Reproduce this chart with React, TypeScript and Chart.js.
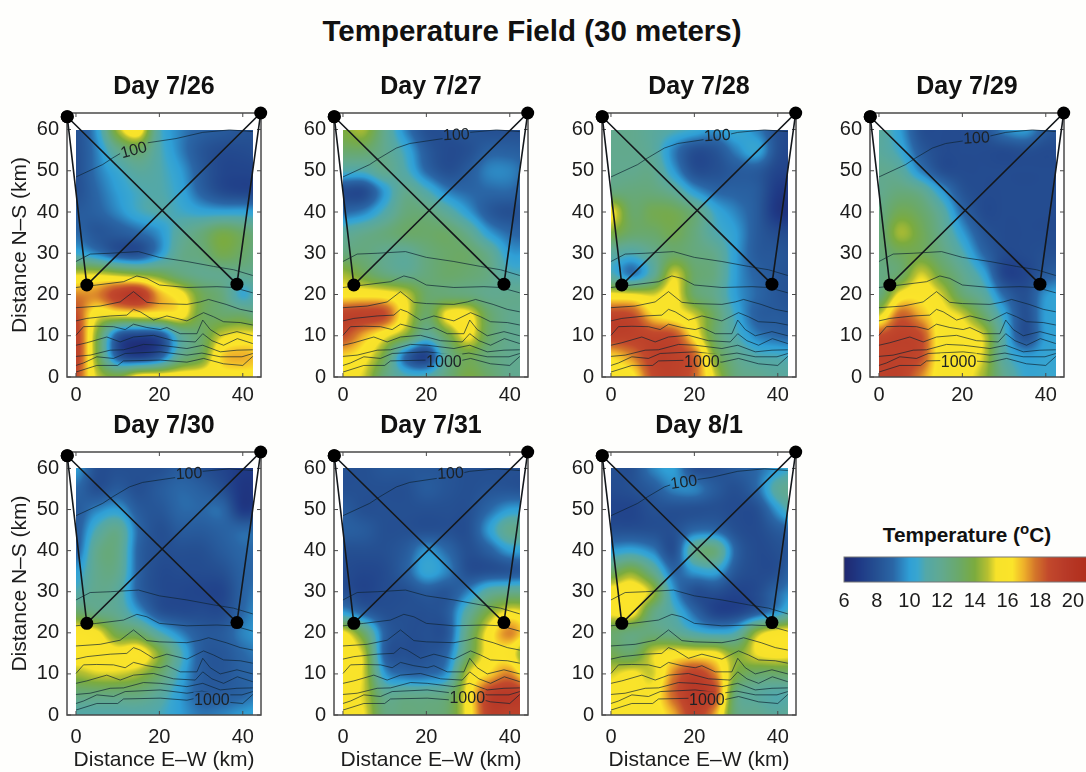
import React, { useEffect, useRef } from "react";
import { Chart, registerables } from "chart.js";

Chart.register(...registerables);

const FONT = "'Liberation Sans', Arial, sans-serif";

// Temperature readings: rows y = 60, 55 ... 0 km, columns x = 0, 5 ... 45 km
const gridStepKm = 5;
const temp0726 = [
  [8, 10, 14.5, 16, 11, 9.5, 8.8, 8.5, 8.2, 8],
  [8, 9.5, 12, 13, 11, 9.5, 8.3, 7.8, 7.8, 8],
  [8, 9.3, 10.5, 11.5, 11, 10, 8.5, 7.6, 7.5, 7.6],
  [8, 9, 10, 10.8, 11, 10.3, 8.8, 7.8, 7.5, 7.6],
  [8.5, 8.8, 9.6, 10.6, 11, 10.7, 10.3, 10.2, 10.2, 10],
  [9, 8.3, 8.5, 9, 9.8, 11.5, 12.5, 13.6, 13, 12],
  [10.5, 9.5, 8.2, 8, 9.8, 12, 12.5, 13.6, 13, 12],
  [15, 15, 14.5, 14, 13.5, 12.5, 12, 12, 12, 12],
  [17.5, 17.5, 19, 19.5, 17, 15.7, 13.5, 12.5, 10.5, 12],
  [18.5, 15.5, 15.5, 15.7, 15.8, 15.8, 13.5, 13, 13, 12],
  [19, 14, 8.5, 7.5, 8, 11.5, 13, 15, 15.5, 15.5],
  [19, 14, 8.5, 7.3, 8.5, 12, 13.5, 16.5, 17, 16.5],
  [18.5, 15, 14, 15.8, 16, 16, 16, 16, 16, 16],
];
const temp0727 = [
  [14, 14.5, 12, 9.5, 8, 8, 8.3, 8, 8, 8],
  [13, 13, 12, 10.5, 8.5, 7.8, 8, 8.7, 8.7, 8.5],
  [11, 11, 12, 11, 9, 8, 8.5, 9.5, 9.5, 8.8],
  [7.8, 7.8, 10, 12, 11, 9.5, 9, 9, 9, 8.5],
  [9, 9.5, 11, 12.5, 12.5, 11.5, 10, 8.5, 8, 8.5],
  [11.5, 12, 12.5, 13, 13, 13, 12, 10, 9, 8.8],
  [12.5, 12.5, 12, 11.7, 12.5, 13, 13, 12, 10, 10],
  [14.5, 13.5, 12.5, 12, 12.5, 13, 12.8, 12.3, 11, 11],
  [16, 16, 15.8, 15, 13, 12.7, 12.5, 12, 12, 12],
  [19, 19, 18.5, 15.5, 13, 15.5, 15.7, 13, 12, 12],
  [18.5, 17, 15.5, 14, 11.5, 13.5, 15.5, 13, 12, 12],
  [16.5, 15.7, 13.5, 9, 7.5, 12, 13.5, 12.5, 12, 12],
  [15.5, 15, 12.5, 11, 11, 12.5, 13.8, 13, 12, 12],
];
const temp0728 = [
  [12, 12, 11.5, 11, 10.5, 9.8, 10.5, 9.5, 8, 7.5],
  [12, 12, 11.5, 9.5, 8, 8.2, 9.5, 10.3, 8, 7.5],
  [12, 12, 12, 10, 8, 8, 8.5, 8.5, 7.5, 7.5],
  [12.5, 12.5, 12.5, 11.8, 10, 9, 8.8, 8.5, 7, 7],
  [15.5, 13, 13.5, 13.5, 12.5, 10.5, 9.5, 8.5, 6.8, 6.8],
  [14, 13, 13, 13.5, 12.5, 11, 10, 8.5, 7.8, 7.8],
  [11.5, 11, 12, 13, 12.5, 12, 10, 8.5, 8.3, 8],
  [11, 9.3, 11.5, 15, 13, 12.3, 10, 8.8, 8.3, 8],
  [15.5, 15.3, 15, 15.7, 13, 12, 10, 9, 8.3, 8],
  [18.8, 18.5, 16.5, 15.8, 15, 13, 10.5, 8.7, 8.5, 8.3],
  [19, 19, 18.8, 18.5, 16, 13, 11, 9.5, 9, 8.8],
  [16.5, 17.5, 19, 19, 18, 14, 12, 11, 10.8, 10.5],
  [15.7, 16, 18.5, 19, 18, 15, 12.5, 12, 11.5, 11.5],
];
const temp0729 = [
  [11.5, 10, 8, 7.8, 7.8, 8, 9.5, 10, 8.5, 8],
  [11.5, 10.5, 8.5, 7.8, 7.8, 7.8, 7.8, 8, 7.8, 7.8],
  [12, 11.5, 9.5, 8, 7.8, 7.8, 7.8, 7.8, 7.8, 7.8],
  [12, 12.5, 12, 10, 8.2, 7.8, 7.8, 7.8, 7.8, 7.8],
  [12.3, 13.5, 13, 11.5, 9, 7.8, 7.8, 7.8, 7.8, 7.8],
  [12.5, 14.5, 13.5, 12, 10, 8.3, 7.8, 7.8, 7.8, 7.8],
  [12.5, 13.3, 13.5, 12.5, 11, 9, 7.8, 7.8, 8, 8],
  [12.3, 13, 15, 13.5, 12, 10.3, 7.5, 7.5, 8.5, 9],
  [12.5, 15.5, 16, 15, 12.8, 11.5, 9, 8, 9.8, 10.3],
  [15, 18, 17, 15.7, 15, 13, 10.3, 8, 10, 10],
  [18.5, 19, 18.5, 15.7, 15.7, 15, 11, 8, 10, 10],
  [19, 19, 18.5, 15.7, 15.7, 15, 11.3, 10, 10.3, 10.3],
  [19, 19, 17.5, 15.7, 15.7, 14.5, 12, 10.5, 10.5, 10.5],
];
const temp0730 = [
  [10, 8, 8, 8, 8, 8.5, 8, 7.5, 7, 7],
  [9, 8, 8.5, 8, 8.5, 9, 8.7, 8, 6.8, 7],
  [8.5, 9.5, 10, 8.5, 8.3, 9, 9, 9, 7, 7.5],
  [8.5, 11, 12, 9, 8, 8.5, 8.5, 8.8, 9, 9],
  [8.7, 12, 12.2, 8.8, 8, 8, 8, 8.5, 9, 9],
  [10, 12, 12, 8.8, 7.8, 7.8, 7.8, 8, 8.8, 9],
  [11, 12, 11.5, 8.8, 7.8, 7.6, 7.5, 7.5, 8.8, 9.5],
  [13, 12.3, 11.8, 10, 8.2, 7.8, 7.8, 7.8, 9, 10],
  [16, 15.5, 13.5, 13, 11, 9.5, 8.5, 8.5, 9.5, 10],
  [16, 16, 15.7, 16, 14, 11, 8.6, 8.3, 9, 9.5],
  [14.5, 15, 15, 14.5, 13, 10.5, 8.6, 8.3, 8.8, 9],
  [12.5, 12.5, 12.5, 12.5, 11.5, 10, 8.7, 8.6, 8.9, 9.5],
  [11, 11, 11, 11, 10.8, 10, 9.3, 9.5, 10, 10.3],
];
const temp0731 = [
  [8, 8, 8.3, 8.3, 8.3, 8.2, 8, 8, 8, 8],
  [8, 8, 8, 8, 8.5, 8.2, 8, 8.2, 8.2, 8],
  [8.5, 8, 8, 8, 8, 8, 8, 9, 10, 10],
  [8.7, 8.5, 8, 8, 8, 8, 8, 10, 12, 11.5],
  [8, 8, 8, 8.5, 9.8, 9, 8, 8.7, 10, 10],
  [7.8, 7.6, 7.8, 8.7, 10.3, 9.5, 8, 8, 8.2, 8.5],
  [8, 7.5, 7.8, 8, 8.5, 8.3, 9.5, 11.5, 12, 12],
  [10, 8.7, 8, 8, 8, 8.5, 11.5, 14, 15.5, 15],
  [15.5, 13, 8.8, 8, 8, 8.3, 12.5, 15.7, 17.5, 15.7],
  [15.7, 14.8, 8.7, 8, 8.1, 9, 13, 15.7, 15.8, 13],
  [15.7, 15, 10, 9, 9, 10, 15, 16.5, 17.5, 15],
  [15.5, 15, 12, 12, 12, 12.5, 15.7, 19, 19.5, 19],
  [15.5, 15.3, 12.5, 12.5, 12.5, 13, 15.7, 19, 19, 19],
];
const temp0801 = [
  [8, 8, 9.5, 10, 8, 8, 8.5, 9, 10, 11],
  [7.8, 8, 8.5, 9.5, 9.5, 8.5, 8, 9, 11.5, 12],
  [7.5, 7.5, 8, 8, 8, 8, 7.8, 8, 10, 12],
  [8, 8, 8, 8, 9, 9, 8, 7.8, 8.5, 9],
  [10, 10.3, 9.5, 8, 12, 12.5, 8.8, 7.8, 8, 8.5],
  [13, 14, 12, 9, 10, 10.3, 8.3, 7.8, 8, 9.5],
  [15.7, 16, 14.5, 10, 8, 8, 7.5, 7.8, 9, 10],
  [15.5, 15.7, 12.5, 11, 9, 7.5, 7.5, 8.5, 10, 12],
  [13, 12.5, 12.5, 12, 11, 10.5, 11, 14.5, 15.7, 15.7],
  [13.5, 13, 15, 15.7, 15.7, 15.5, 14, 15.3, 15.7, 15.5],
  [15, 15.5, 15, 17.5, 19, 17.5, 14, 13, 13, 13],
  [15.7, 15.7, 15.7, 18, 19.5, 18.5, 12.5, 11.5, 11, 11.5],
  [15.7, 15.7, 15.7, 17, 19, 17, 12.5, 12, 11.5, 12],
];

// Depth contours (km E-W, km N-S), identical on all days
const contour1 = [[0,48.5],[6.4,51.5],[8.8,53.1],[12.8,55.5],[16,56.6],[24,57.8],[30.4,59.3],[36.8,59.9],[42.4,59.5]];
const contour2 = [[0,28],[3.4,29.8],[8.2,30],[15,30.4],[20,29],[26.6,28],[33,26.8],[37.8,26],[42.4,24.6]];
const contour3 = [[0,21.7],[5,22.3],[11.4,23.1],[14.6,24.5],[17,23.9],[20,22.3],[26.6,21.7],[33.8,21.9],[37.8,21.7],[42.4,20.4]];
const contour4 = [[0,16.8],[5.8,17.2],[10.6,18.2],[13.8,20.7],[17,18.1],[20,17.8],[26.6,17.6],[29.8,18.2],[31.8,18.8],[36,17.6],[39.4,16.4],[42.4,15.8]];
const contour5 = [[0,13.6],[2.6,14.2],[8.2,14.8],[12.2,15],[13.8,16.4],[15.4,15.8],[18.6,13.8],[21.8,14.8],[26.6,13.6],[30.6,15.6],[33,14.6],[35.4,13.4],[39.4,13.2],[42.4,12.6]];
const contour6 = [[0,10.1],[1.8,12.2],[5,12.3],[9,12.2],[11.8,11.5],[13.8,12.8],[17,12],[20.2,11.5],[21.8,12],[25,10.5],[29,10.5],[30.4,13.8],[32.2,11.5],[34.6,10],[38.6,11],[42.4,10]];
const contour7 = [[0,7.7],[2.6,8.3],[7.4,9.7],[10.6,8.5],[13.8,9.7],[18.6,10.1],[23.4,8.8],[28.6,8.5],[30.4,10.5],[32.6,8.8],[35.4,7.7],[38.7,9.3],[42.4,8.1]];
const contour8 = [[0,5],[3.4,5.3],[8.2,6.5],[11.4,6.6],[16.2,7.9],[20.2,7.7],[26.6,6.9],[30.4,7.7],[34.6,6.1],[38.6,6.5],[42.4,6.6]];
const contour9 = [[0,2.8],[1.8,3.4],[5,4.9],[9,4.5],[11.8,5.7],[20.2,6.1],[26.6,5.3],[30.2,5.8],[34.6,4.9],[39.8,4.9],[42.4,5.7]];
const contour10 = [[0,1.2],[5,2.8],[10,2.8],[11.4,3.9],[20.2,4.1],[26.6,3.6],[30.6,4.5],[35.4,3.2],[40,2.8],[42.4,5]];
const contours = [contour1, contour2, contour3, contour4, contour5, contour6, contour7, contour8, contour9, contour10];

// Moorings and the acoustic paths joining them
const mooringPath = [[-2.1,63.1],[2.6,22.3],[44.3,64],[38.6,22.5],[-2.1,63.1]];

const dayTitles = ["Day 7/26", "Day 7/27", "Day 7/28", "Day 7/29", "Day 7/30", "Day 7/31", "Day 8/1"];
const dayGrids = [temp0726, temp0727, temp0728, temp0729, temp0730, temp0731, temp0801];
// [text, x km, y km, rotation degrees]
const dayLabels: [string, number, number, number][][] = [
  [["100", 13.9, 54.9, -15]],
  [["100", 27.2, 58.6, -3], ["1000", 24.2, 3.6, 0]],
  [["100", 25.5, 58.4, -3], ["1000", 21.8, 3.5, 0]],
  [["100", 23.4, 57.8, -3], ["1000", 19.1, 3.5, 0]],
  [["100", 27.1, 58.6, -3], ["1000", 32.6, 3.5, 0]],
  [["100", 25.8, 58.7, -3], ["1000", 29.8, 4, 0]],
  [["100", 17.5, 56.5, -8], ["1000", 23, 3.6, 0]],
];
const xTicks = [0, 20, 40];
const yTicks = [0, 10, 20, 30, 40, 50, 60];
const colorbarTicks = [6, 8, 10, 12, 14, 16, 18, 20];
const heatMaxX = 42.4;
const heatMaxY = 60;

const colorStops: [number, number, number, number][] = [
  [6, 31, 39, 112], [7, 31, 58, 134], [8, 37, 80, 146], [9, 42, 102, 166], [10, 47, 159, 214],
  [10.5, 57, 166, 207], [11, 83, 168, 168], [12, 98, 169, 142], [13, 106, 169, 106], [14, 123, 171, 62],
  [14.8, 184, 192, 48], [15.3, 247, 226, 42], [16.3, 251, 228, 42], [17, 238, 176, 42], [17.7, 211, 117, 42],
  [18.5, 194, 73, 44], [19.5, 184, 58, 40], [21, 176, 44, 26],
];

function colorOf(t: number): [number, number, number] {
  if (t <= colorStops[0][0]) return [colorStops[0][1], colorStops[0][2], colorStops[0][3]];
  for (let i = 1; i < colorStops.length; i++) {
    const b = colorStops[i];
    if (t <= b[0]) {
      const a = colorStops[i - 1];
      const f = (t - a[0]) / (b[0] - a[0]);
      return [a[1] + (b[1] - a[1]) * f, a[2] + (b[2] - a[2]) * f, a[3] + (b[3] - a[3]) * f];
    }
  }
  const l = colorStops[colorStops.length - 1];
  return [l[1], l[2], l[3]];
}

function cr(p0: number, p1: number, p2: number, p3: number, t: number) {
  return 0.5 * (2 * p1 + (p2 - p0) * t + (2 * p0 - 5 * p1 + 4 * p2 - p3) * t * t + (3 * p1 - p0 - 3 * p2 + p3) * t * t * t);
}

function sampleGrid(grid: number[][], x: number, y: number) {
  const rows = grid.length, cols = grid[0].length;
  const rf = (heatMaxY - y) / gridStepKm, cf = x / gridStepKm;
  const r = Math.min(rows - 2, Math.max(0, Math.floor(rf)));
  const c = Math.min(cols - 2, Math.max(0, Math.floor(cf)));
  const at = (i: number, j: number) => grid[Math.max(0, Math.min(rows - 1, i))][Math.max(0, Math.min(cols - 1, j))];
  const v = [-1, 0, 1, 2].map((di) =>
    cr(at(r + di, c - 1), at(r + di, c), at(r + di, c + 1), at(r + di, c + 2), cf - c)
  );
  return cr(v[0], v[1], v[2], v[3], rf - r);
}

const fieldPlugin = {
  id: "field",
  beforeDatasetsDraw(chart: any, _a: any, opts: any) {
    const { ctx, chartArea: ca, scales } = chart;
    const xs = scales.x, ys = scales.y;
    ctx.save();
    ctx.fillStyle = "#ffffff";
    ctx.fillRect(ca.left, ca.top, ca.width, ca.height);
    const x0 = Math.round(xs.getPixelForValue(0));
    const x1 = Math.round(xs.getPixelForValue(heatMaxX));
    const y0 = Math.round(ys.getPixelForValue(heatMaxY));
    const y1 = Math.round(ys.getPixelForValue(0));
    const w = x1 - x0, h = y1 - y0;
    const off = document.createElement("canvas");
    off.width = w;
    off.height = h;
    const octx = off.getContext("2d")!;
    const img = octx.createImageData(w, h);
    for (let j = 0; j < h; j++) {
      const yv = ys.getValueForPixel(y0 + j + 0.5);
      for (let i = 0; i < w; i++) {
        const xv = xs.getValueForPixel(x0 + i + 0.5);
        const c = colorOf(sampleGrid(opts.grid, xv, yv));
        const k = (j * w + i) * 4;
        img.data[k] = c[0];
        img.data[k + 1] = c[1];
        img.data[k + 2] = c[2];
        img.data[k + 3] = 255;
      }
    }
    octx.putImageData(img, 0, 0);
    ctx.drawImage(off, x0, y0);
    // frame and inward ticks
    ctx.strokeStyle = "#4a4a4a";
    ctx.lineWidth = 1.5;
    ctx.strokeRect(ca.left, ca.top, ca.width, ca.height);
    ctx.lineWidth = 1;
    ctx.beginPath();
    xs.ticks.forEach((t: any) => {
      const p = xs.getPixelForValue(t.value);
      ctx.moveTo(p, ca.bottom); ctx.lineTo(p, ca.bottom - 4);
      ctx.moveTo(p, ca.top); ctx.lineTo(p, ca.top + 4);
    });
    ys.ticks.forEach((t: any) => {
      const p = ys.getPixelForValue(t.value);
      ctx.moveTo(ca.left, p); ctx.lineTo(ca.left + 4, p);
      ctx.moveTo(ca.right, p); ctx.lineTo(ca.right - 4, p);
    });
    ctx.stroke();
    ctx.restore();
  },
  beforeDatasetDraw(chart: any, args: any, opts: any) {
    const ds = chart.data.datasets[args.index];
    if (ds.label !== "depth") return;
    const { ctx, scales } = chart;
    ctx.save();
    ctx.beginPath();
    ctx.rect(0, 0, chart.width, chart.height);
    opts.labels.forEach((l: any) => {
      const hw = l[0].length * 4.6;
      const px = scales.x.getPixelForValue(l[1]), py = scales.y.getPixelForValue(l[2]);
      ctx.rect(px - hw, py - 9, hw * 2, 18);
    });
    ctx.clip("evenodd");
  },
  afterDatasetDraw(chart: any, args: any) {
    const ds = chart.data.datasets[args.index];
    if (ds.label === "depth") chart.ctx.restore();
  },
  afterDatasetsDraw(chart: any, _a: any, opts: any) {
    const { ctx, scales } = chart;
    ctx.save();
    ctx.fillStyle = "#1c2226";
    ctx.font = `16px ${FONT}`;
    ctx.textAlign = "center";
    ctx.textBaseline = "middle";
    opts.labels.forEach((l: any) => {
      ctx.save();
      ctx.translate(scales.x.getPixelForValue(l[1]), scales.y.getPixelForValue(l[2]));
      ctx.rotate((l[3] * Math.PI) / 180);
      ctx.fillText(l[0], 0, 0);
      ctx.restore();
    });
    ctx.restore();
  },
};

const colorbarPlugin = {
  id: "colorbar",
  beforeDatasetsDraw(chart: any) {
    const { ctx, chartArea: ca, scales } = chart;
    ctx.save();
    for (let px = Math.floor(ca.left); px < ca.right; px++) {
      const c = colorOf(scales.x.getValueForPixel(px + 0.5));
      ctx.fillStyle = `rgb(${c[0]},${c[1]},${c[2]})`;
      ctx.fillRect(px, ca.top, 1, ca.height);
    }
    ctx.strokeStyle = "#777";
    ctx.lineWidth = 1;
    ctx.strokeRect(ca.left, ca.top, ca.width + 4, ca.height);
    ctx.restore();
  },
};

const plotW = 194;
const marginLeft = 50;
const marginTop = 42;
const marginBottom = 58;
const marginRight = 14;

function Panel({ index, plotLeft, plotTop, plotH, showY, showX, tickPad }: any) {
  const ref = useRef<HTMLCanvasElement>(null);
  const mLeft = showY ? plotLeft : marginLeft;
  useEffect(() => {
    const datasets: any[] = [
      {
        label: "moorings",
        data: mooringPath.map(([x, y]) => ({ x, y })),
        showLine: true,
        borderColor: "#14181c",
        borderWidth: 1.6,
        pointRadius: 6.5,
        pointBackgroundColor: "#000",
        pointBorderWidth: 0,
        clip: false,
        order: 0,
      },
      ...contours.map((c) => ({
        label: "depth",
        data: c.map(([x, y]) => ({ x, y })),
        showLine: true,
        borderColor: "rgba(15,35,50,0.68)",
        borderWidth: 1,
        pointRadius: 0,
        order: 1,
      })),
    ];
    const chart = new Chart(ref.current!, {
      type: "scatter",
      data: { datasets },
      plugins: [fieldPlugin],
      options: {
        animation: false,
        responsive: false,
        events: [],
        layout: { padding: { right: marginRight, top: 0, left: 0, bottom: 0 } },
        scales: {
          x: {
            type: "linear",
            min: -2.15,
            max: 44.37,
            afterBuildTicks: (s: any) => { s.ticks = xTicks.map((value) => ({ value })); },
            afterFit: (s: any) => { s.height = marginBottom; },
            grid: { display: false },
            border: { display: false },
            ticks: { font: { family: FONT, size: 20 }, color: "#1c1c1c", padding: tickPad, maxRotation: 0 },
            title: { display: showX, text: "Distance E\u2013W (km)", font: { family: FONT, size: 21 }, color: "#1c1c1c", padding: 0 },
          },
          y: {
            type: "linear",
            min: 0,
            max: 64,
            afterBuildTicks: (s: any) => { s.ticks = yTicks.map((value) => ({ value })); },
            afterFit: (s: any) => { s.width = mLeft; },
            grid: { display: false },
            border: { display: false },
            ticks: { font: { family: FONT, size: 20 }, color: "#1c1c1c", padding: 0 },
            title: { display: showY, text: "Distance N\u2013S (km)", font: { family: FONT, size: 21 }, color: "#1c1c1c", padding: { top: 7.4, bottom: 0 } },
          },
        },
        plugins: {
          legend: { display: false },
          tooltip: { enabled: false },
          title: {
            display: true,
            text: dayTitles[index],
            fullSize: false,
            font: { family: FONT, size: 25, weight: "bold" },
            color: "#111",
            padding: { top: 1, bottom: marginTop - 1 - 30 },
          },
          field: { grid: dayGrids[index], labels: dayLabels[index] },
        } as any,
      },
    } as any);
    return () => chart.destroy();
  }, []);
  return (
    <canvas
      ref={ref}
      width={mLeft + plotW + marginRight}
      height={marginTop + plotH + marginBottom}
      style={{ position: "absolute", left: plotLeft - mLeft, top: plotTop - marginTop, width: mLeft + plotW + marginRight, height: marginTop + plotH + marginBottom }}
    />
  );
}

function Colorbar() {
  const ref = useRef<HTMLCanvasElement>(null);
  useEffect(() => {
    const chart = new Chart(ref.current!, {
      type: "scatter",
      data: { datasets: [{ data: [], label: "Temperature" }] },
      plugins: [colorbarPlugin],
      options: {
        animation: false,
        responsive: false,
        events: [],
        layout: { padding: { left: 14, top: 7, right: 0, bottom: 0 } },
        scales: {
          x: {
            type: "linear",
            min: 6,
            max: 20.8,
            afterBuildTicks: (s: any) => { s.ticks = colorbarTicks.map((value) => ({ value })); },
            afterFit: (s: any) => { s.height = 38; },
            grid: { display: false },
            border: { display: false },
            ticks: { font: { family: FONT, size: 20 }, color: "#1c1c1c", padding: -1, maxRotation: 0 },
          },
          y: { type: "linear", display: false, min: 0, max: 1 },
        },
        plugins: { legend: { display: false }, tooltip: { enabled: false } },
      },
    } as any);
    return () => chart.destroy();
  }, []);
  return <canvas ref={ref} width={256} height={70} style={{ position: "absolute", left: 830, top: 550, width: 256, height: 70 }} />;
}

const panelLefts = [67, 334, 602, 870, 67, 334, 602];
const panelTops = [113, 113, 113, 113, 452, 452, 452];
const panelHeights = [264, 264, 264, 264, 263, 263, 263];

export default function App() {
  return (
    <div style={{ position: "absolute", left: 0, top: 0, width: 1086, height: 772, background: "#fefefc", overflow: "hidden", fontFamily: FONT, color: "#111" }}>
      <div style={{ position: "absolute", left: 0, width: 1064, top: 13, textAlign: "center", fontWeight: "bold", fontSize: 29.5, lineHeight: "36px" }}>
        Temperature Field (30 meters)
      </div>
      {dayTitles.map((_, i) => (
        <Panel key={i} index={i} plotLeft={panelLefts[i]} plotTop={panelTops[i]} plotH={panelHeights[i]} showY={panelLefts[i] === 67} showX={panelTops[i] === 452} tickPad={panelTops[i] === 452 ? 2 : -2} />
      ))}
      <div style={{ position: "absolute", left: 840, width: 254, top: 520, textAlign: "center", fontWeight: "bold", fontSize: 20.8, lineHeight: "30px", whiteSpace: "nowrap" }}>
        Temperature (<sup style={{ fontSize: 15, lineHeight: 0 }}>o</sup>C)
      </div>
      <Colorbar />
    </div>
  );
}
